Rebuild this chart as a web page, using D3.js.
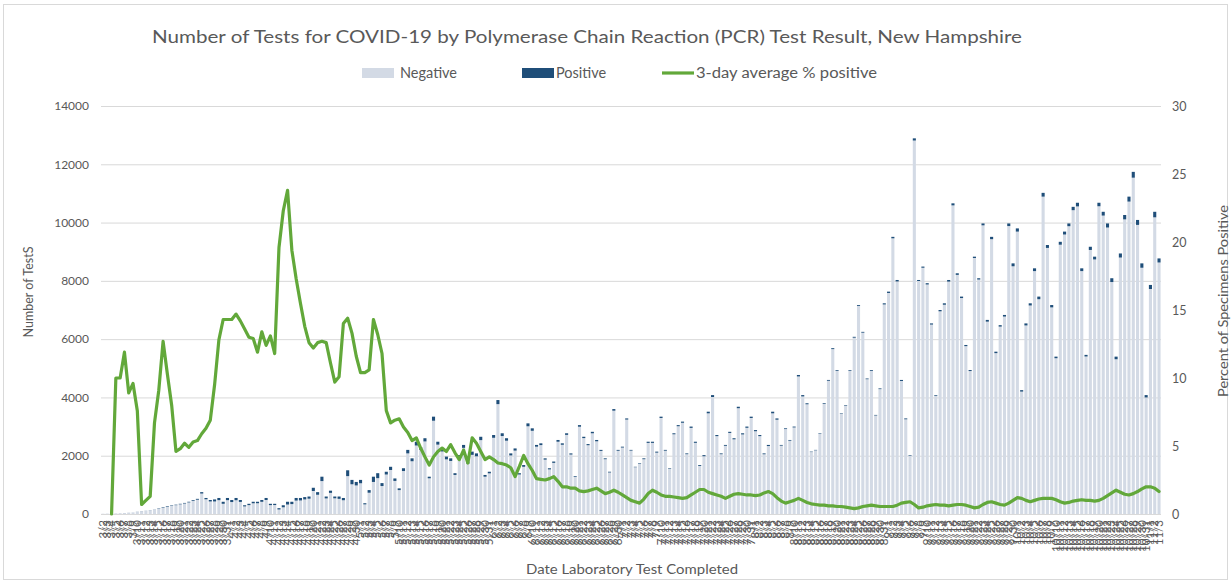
<!DOCTYPE html>
<html><head><meta charset="utf-8">
<script src="https://cdn.jsdelivr.net/npm/d3@7"></script>
<style>
body{margin:0;background:#fff;}
svg text{font-family:Lato,"Liberation Sans",Arial,sans-serif;fill:#595959;}
</style>
</head><body>
<svg id="chart" width="1231" height="583"></svg>
<script>
const dateLabels = [
"3/2","3/3","3/4","3/5","3/6","3/7","3/8","3/9","3/10","3/11","3/12","3/13","3/14","3/15","3/16","3/17","3/18","3/19","3/20","3/21","3/22","3/23","3/24","3/25","3/26","3/27","3/28","3/29","3/30","3/31",
"4/1","4/2","4/3","4/4","4/5","4/6","4/7","4/8","4/9","4/10","4/11","4/12","4/13","4/14","4/15","4/16","4/17","4/18","4/19","4/20","4/21","4/22","4/23","4/24","4/25","4/26","4/27","4/28","4/29","4/30",
"5/1","5/2","5/3","5/4","5/5","5/6","5/7","5/8","5/9","5/10","5/11","5/12","5/13","5/14","5/15","5/16","5/17","5/18","5/19","5/20","5/21","5/22","5/23","5/24","5/25","5/26","5/27","5/28","5/29","5/30","5/31",
"6/1","6/2","6/3","6/4","6/5","6/6","6/7","6/8","6/9","6/10","6/11","6/12","6/13","6/14","6/15","6/16","6/17","6/18","6/19","6/20","6/21","6/22","6/23","6/24","6/25","6/26","6/27","6/28","6/29","6/30",
"7/1","7/2","7/3","7/4","7/5","7/6","7/7","7/8","7/9","7/10","7/11","7/12","7/13","7/14","7/15","7/16","7/17","7/18","7/19","7/20","7/21","7/22","7/23","7/24","7/25","7/26","7/27","7/28","7/29","7/30","7/31",
"8/1","8/2","8/3","8/4","8/5","8/6","8/7","8/8","8/9","8/10","8/11","8/12","8/13","8/14","8/15","8/16","8/17","8/18","8/19","8/20","8/21","8/22","8/23","8/24","8/25","8/26","8/27","8/28","8/29","8/30","8/31",
"9/1","9/2","9/3","9/4","9/5","9/6","9/7","9/8","9/9","9/10","9/11","9/12","9/13","9/14","9/15","9/16","9/17","9/18","9/19","9/20","9/21","9/22","9/23","9/24","9/25","9/26","9/27","9/28","9/29","9/30",
"10/1","10/2","10/3","10/4","10/5","10/6","10/7","10/8","10/9","10/10","10/11","10/12","10/13","10/14","10/15","10/16","10/17","10/18","10/19","10/20","10/21","10/22","10/23","10/24","10/25","10/26","10/27","10/28","10/29","10/30","10/31",
"11/1","11/2","11/3"
];

const totalTests = [
10,15,20,20,25,30,40,50,80,100,
110,130,150,200,230,270,300,320,350,380,
420,480,520,750,550,480,500,550,420,550,
480,550,480,300,350,420,420,480,550,350,
350,200,300,420,420,550,550,580,600,900,
750,1280,600,800,600,600,550,1500,1170,1100,
1170,370,820,1280,1400,1060,1450,1620,1220,880,
1570,2200,1910,2480,2300,2600,1280,3340,2480,2250,
1970,1910,1400,2020,2370,1800,2140,2080,2650,1340,
1450,2710,3910,2770,2600,2080,2250,1400,1680,3110,
2940,2370,2425,1910,1570,1800,2540,2425,2770,2080,
1300,3050,2650,2400,2820,2540,2200,1910,1450,3600,
2200,2310,3280,2200,1620,1740,1910,2480,2480,2140,
3340,2200,1570,2770,3050,3170,2080,3000,2480,1680,
2020,3510,4080,2710,2080,2370,2820,2600,3680,2770,
3000,3340,2880,2710,2080,2370,3510,3280,2370,2940,
2540,3000,4770,4080,3800,2140,2200,2770,3800,4600,
5690,4940,3450,3740,4940,6080,7170,6250,4650,4940,
3400,4310,7230,7630,9510,8030,4600,3280,2020,12890,
8030,8490,7920,6540,4080,7000,7230,8030,10660,8260,
7460,5800,4940,8830,8090,9970,6660,9510,5570,6480,
6830,9970,8600,9800,4250,6540,7230,8430,7460,11020,
9230,7170,5400,9340,9690,9970,10540,10680,8430,5460,
9170,8830,10680,10370,9970,8090,5400,8940,10260,10890,
11740,10090,8600,4080,7860,10370,8770
];

const positiveTests = [
0,0,0,1,1,2,3,2,3,3,
4,5,6,12,18,20,16,17,18,20,
22,26,30,48,45,50,70,75,70,75,
70,78,65,40,45,52,50,62,70,45,
42,45,70,95,80,90,85,80,75,110,
90,150,65,75,62,80,78,200,150,120,
115,40,90,180,170,100,95,110,85,60,
95,120,100,130,95,110,55,140,100,105,
95,90,60,85,100,75,110,100,115,60,
55,95,140,95,85,70,75,45,60,100,
85,60,60,45,40,45,60,50,55,40,
25,55,45,40,50,45,35,30,25,55,
30,30,40,25,15,20,30,40,40,35,
45,28,20,35,38,40,28,45,38,30,
38,55,65,38,28,30,38,38,50,40,
42,45,40,38,30,38,55,45,25,25,
25,30,50,45,35,15,15,18,25,28,
32,27,18,20,25,30,30,28,25,28,
20,25,40,45,50,50,35,30,20,75,
35,40,45,40,25,45,50,55,70,55,
50,40,35,45,45,65,60,80,50,50,
55,90,100,110,50,70,75,95,90,130,
100,80,55,100,100,95,115,125,95,55,
110,95,120,130,140,130,90,140,150,170,
200,170,150,80,140,190,140
];

const pctPositive3Day = [
null,null,0,10.0,10.0,11.9,8.9,9.6,7.6,0.7,
1.0,1.3,6.7,9.1,12.7,10.3,8.0,4.6,4.8,5.2,
4.9,5.3,5.4,5.9,6.3,6.9,9.5,12.8,14.3,14.3,
14.3,14.7,14.2,13.6,13.0,12.9,11.9,13.4,12.4,13.1,
11.8,19.6,22.3,23.8,19.4,17.3,15.5,13.8,12.6,12.2,
12.6,12.7,12.6,11.1,9.7,10.1,14.0,14.4,13.3,11.6,
10.4,10.4,10.6,14.3,13.2,11.8,7.6,6.7,6.9,7.0,
6.4,6.0,5.4,5.6,4.85,4.2,3.6,4.2,4.6,4.85,
4.6,5.1,4.5,4.0,4.7,3.75,5.6,5.2,4.6,4.0,
4.2,4.0,3.75,3.7,3.6,3.4,2.75,3.5,4.3,3.7,
3.2,2.6,2.55,2.5,2.6,2.75,2.4,2.0,2.0,1.9,
1.9,1.7,1.65,1.7,1.8,1.9,1.7,1.5,1.6,1.75,
1.6,1.4,1.2,1.0,0.9,0.8,1.1,1.5,1.75,1.6,
1.4,1.3,1.3,1.25,1.2,1.15,1.2,1.4,1.6,1.8,
1.8,1.6,1.5,1.4,1.3,1.15,1.3,1.45,1.5,1.45,
1.4,1.4,1.35,1.4,1.55,1.65,1.5,1.2,0.95,0.8,
0.9,1.0,1.15,1.0,0.85,0.75,0.7,0.65,0.65,0.6,
0.6,0.55,0.55,0.5,0.45,0.4,0.45,0.55,0.6,0.65,
0.6,0.55,0.55,0.55,0.55,0.65,0.8,0.85,0.9,0.7,
0.45,0.5,0.6,0.65,0.7,0.65,0.65,0.6,0.65,0.7,
0.7,0.65,0.55,0.45,0.5,0.7,0.85,0.9,0.8,0.7,
0.65,0.8,1.0,1.2,1.15,1.0,0.9,1.0,1.1,1.15,
1.15,1.15,1.05,0.9,0.8,0.85,0.95,1.0,1.05,1.0,
1.0,0.95,1.0,1.15,1.35,1.55,1.75,1.6,1.45,1.4,
1.5,1.65,1.85,2.0,2.0,1.9,1.65
];

const leftTicks = [0,2000,4000,6000,8000,10000,12000,14000];
const rightTicks = [0,5,10,15,20,25,30];
const seriesNames = ["Negative","Positive","3-day average % positive"];
const titleText = "Number of Tests for COVID-19 by Polymerase Chain Reaction (PCR) Test Result, New Hampshire";
const leftTitle = "Number of TestS";
const rightTitle = "Percent of Specimens Positive";
const xTitle = "Date Laboratory Test Completed";

const colNeg = "#d3dae5", colPos = "#1f4e79", colLine = "#62a83a", colGrid = "#d9d9d9";

const svg = d3.select("#chart");
svg.append("rect").attr("width",1231).attr("height",583).attr("fill","#fff");
svg.append("rect").attr("x",3.5).attr("y",4.5).attr("width",1224).attr("height",575)
  .attr("fill","none").attr("stroke","#d9d9d9");

const L = 101, R = 1161, T = 106, B = 514;
const x = d3.scaleBand().domain(dateLabels).range([L,R]).paddingInner(0.28).paddingOuter(0.1);
const yL = d3.scaleLinear().domain([0,14000]).range([B,T]);
const yR = d3.scaleLinear().domain([0,30]).range([B,T]);

// gridlines
svg.append("g").attr("transform",`translate(${L},0)`)
  .call(d3.axisLeft(yL).tickValues(leftTicks).tickSize(-(R-L)).tickFormat(""))
  .call(g=>g.select(".domain").remove())
  .call(g=>g.selectAll("line").attr("stroke",colGrid));

// left axis labels
svg.append("g").attr("transform",`translate(${L},0)`)
  .call(d3.axisLeft(yL).tickValues(leftTicks).tickSize(0).tickPadding(12).tickFormat(d3.format("d")))
  .call(g=>g.select(".domain").remove())
  .call(g=>g.selectAll("text").attr("font-size",12).style("font-family","Lato, sans-serif").attr("fill","#595959"));

// right axis labels
svg.append("g").attr("transform",`translate(${R},0)`)
  .call(d3.axisRight(yR).tickValues(rightTicks).tickSize(0).tickPadding(11).tickFormat(d3.format("d")))
  .call(g=>g.select(".domain").remove())
  .call(g=>g.selectAll("text").attr("font-size",12.5).style("font-family","Lato, sans-serif").attr("fill","#595959"));

// stacked bars
const rows = dateLabels.map((d,i)=>({date:d, Negative: totalTests[i]-positiveTests[i], Positive: positiveTests[i]}));
const stacked = d3.stack().keys(["Negative","Positive"])(rows);
const colors = {Negative: colNeg, Positive: colPos};
svg.append("g").selectAll("g").data(stacked).join("g")
  .attr("fill", s=>colors[s.key])
  .selectAll("rect").data(s=>s).join("rect")
  .attr("x", d=>x(d.data.date))
  .attr("width", x.bandwidth())
  .attr("y", d=>yL(d[1]))
  .attr("height", d=>Math.max(0, yL(d[0])-yL(d[1])));

// x axis labels
svg.append("g").attr("transform",`translate(0,${B})`)
  .call(d3.axisBottom(x).tickSize(0))
  .call(g=>g.select(".domain").remove())
  .call(g=>g.selectAll("text")
     .attr("transform","rotate(-90)")
     .attr("text-anchor","end")
     .attr("x",-6).attr("y",0).attr("dy","0.32em")
     .attr("font-size",11.5)
     .style("font-family","Lato, sans-serif")
     .attr("fill","#6a6a6a"));

// line
const line = d3.line()
  .defined(d=>d!=null)
  .x((d,i)=>x(dateLabels[i])+x.bandwidth()/2)
  .y(d=>yR(d))
  .curve(d3.curveLinear);
svg.append("path").datum(pctPositive3Day)
  .attr("d", line).attr("fill","none").attr("stroke",colLine)
  .attr("stroke-width",3.2).attr("stroke-linejoin","round").attr("stroke-linecap","round");

// title
svg.append("text").attr("x",587).attr("y",43).attr("text-anchor","middle")
  .attr("font-size",18).attr("textLength",870).attr("lengthAdjust","spacingAndGlyphs")
  .text(titleText);

// legend
const lg = svg.append("g");
lg.append("rect").attr("x",362).attr("y",68).attr("width",32).attr("height",10).attr("fill",colNeg);
lg.append("text").attr("x",400).attr("y",78).attr("font-size",14.5).text(seriesNames[0]);
lg.append("rect").attr("x",522).attr("y",68).attr("width",32).attr("height",10).attr("fill",colPos);
lg.append("text").attr("x",556).attr("y",78).attr("font-size",14.5).text(seriesNames[1]);
lg.append("line").attr("x1",662).attr("x2",694).attr("y1",73).attr("y2",73).attr("stroke",colLine).attr("stroke-width",3.2);
lg.append("text").attr("x",696).attr("y",78).attr("font-size",14.5).attr("textLength",181).attr("lengthAdjust","spacingAndGlyphs").text(seriesNames[2]);

// axis titles
svg.append("text").attr("transform","translate(33,292) rotate(-90)").attr("text-anchor","middle")
  .attr("font-size",12.5).text(leftTitle);
svg.append("text").attr("transform","translate(1228,301) rotate(-90)").attr("text-anchor","middle")
  .attr("font-size",13).attr("textLength",192).attr("lengthAdjust","spacingAndGlyphs").text(rightTitle);
svg.append("text").attr("x",632).attr("y",574).attr("text-anchor","middle")
  .attr("font-size",13.5).attr("textLength",212).attr("lengthAdjust","spacingAndGlyphs").text(xTitle);
</script>
</body></html>
